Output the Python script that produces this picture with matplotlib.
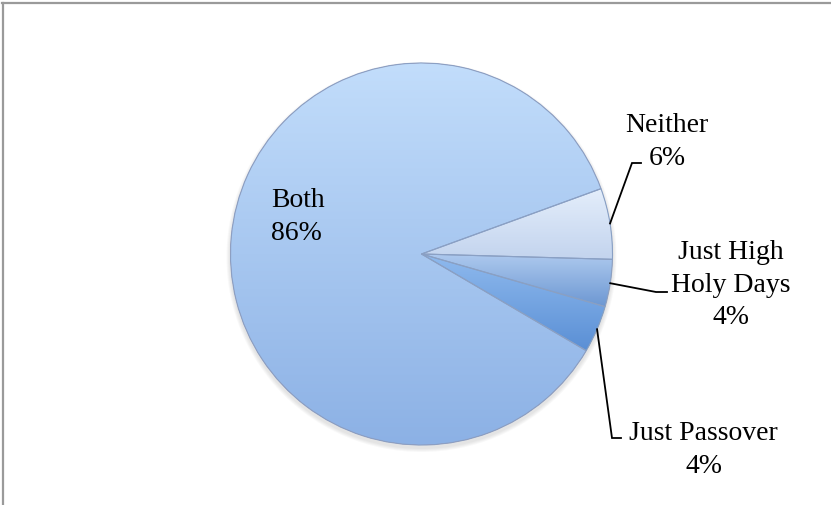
import numpy as np
import matplotlib
matplotlib.use("Agg")
import matplotlib.pyplot as plt
from matplotlib.colors import to_rgb
from matplotlib.lines import Line2D
from matplotlib.patches import Wedge, Circle

# Survey shares: which holidays are observed
categories = ["Neither", "Just High Holy Days", "Just Passover", "Both"]
shares = [6, 4, 4, 86]
label_texts = ["Neither\n6%", "Just High\nHoly Days\n4%", "Just Passover\n4%", "Both\n86%"]

# vertical gradient colours for each slice (top -> bottom)
top_colors = ["#e4eefb", "#adc9ee", "#8fbaee", "#c2ddfb"]
bot_colors = ["#c3d4ee", "#6c97d2", "#5a8fd5", "#8cb1e5"]

W, H = 831, 505
fig = plt.figure(figsize=(W / 100, H / 100), dpi=100)
ax = fig.add_axes([0, 0, 1, 1])

cx, cy, R = 421.5, H - 254, 191

# soft drop shadow under the pie
for k, a in enumerate([0.05, 0.05, 0.05, 0.06]):
    ax.add_patch(Circle((cx, cy - 3), R + 4 - k, facecolor="#808080", alpha=a,
                        edgecolor="none", zorder=0))

wedges, _ = ax.pie(shares, startangle=20.0, counterclock=False,
                   center=(cx, cy), radius=R,
                   wedgeprops=dict(edgecolor="none"))
ax.set_xlim(0, W)
ax.set_ylim(0, H)
ax.set_aspect("equal")
ax.axis("off")

# fill each slice with a vertical gradient clipped to its shape
for w, ct, cb in zip(wedges, top_colors, bot_colors):
    x0, y0, x1, y1 = w.get_path().get_extents().extents
    t = np.linspace(0, 1, 256)[:, None]
    c0, c1 = np.array(to_rgb(ct)), np.array(to_rgb(cb))
    grad = (c0[None, None, :] * (1 - t[..., None]) + c1[None, None, :] * t[..., None])
    grad = np.repeat(grad, 2, axis=1)
    im = ax.imshow(grad, extent=(x0, x1, y0, y1), origin="upper",
                   aspect="auto", zorder=2, interpolation="bilinear")
    im.set_clip_path(w)
    ax.add_patch(Wedge(w.center, w.r, w.theta1, w.theta2, facecolor="none",
                       edgecolor="#8aa0c4", lw=0.8, zorder=3))

ax.set_xlim(0, W)
ax.set_ylim(0, H)

font = dict(family=["Liberation Serif", "DejaVu Serif"], fontsize=20, color="black")
LS = 1.42

# "Both" label sits inside its slice
ax.text(271, H - 217, label_texts[3], ha="left", va="center",
        linespacing=LS, zorder=5, **font)

def rim_point(w):
    mid = np.deg2rad((w.theta1 + w.theta2) / 2)
    return cx + R * np.cos(mid), cy + R * np.sin(mid)

# leader lines: rim -> elbow -> short horizontal tick
elbows = [((632, H - 163), (641, H - 163)),
          ((656, H - 292), (667, H - 292)),
          ((612, H - 438), (621, H - 438))]
for w, (e1, e2) in zip(wedges[:3], elbows):
    px, py = rim_point(w)
    ax.plot([px, e1[0], e2[0]], [py, e1[1], e2[1]], color="black", lw=1.3,
            zorder=4, solid_joinstyle="miter")

ax.text(667, H - 142, label_texts[0], ha="center", va="center",
        linespacing=LS, **font)
ax.text(731, H - 285, label_texts[1], ha="center", va="center",
        linespacing=LS, **font)
ax.text(703.5, H - 450, label_texts[2], ha="center", va="center",
        linespacing=LS, **font)

# chart border
fig.add_artist(Line2D([0.003, 1.0], [1 - 2.5 / H] * 2, transform=fig.transFigure,
                      color="#9a9a9a", lw=1.6))
fig.add_artist(Line2D([2.5 / W] * 2, [0.0, 1 - 2.5 / H], transform=fig.transFigure,
                      color="#9a9a9a", lw=1.6))

fig.savefig("out.png", dpi=100, facecolor="white")
